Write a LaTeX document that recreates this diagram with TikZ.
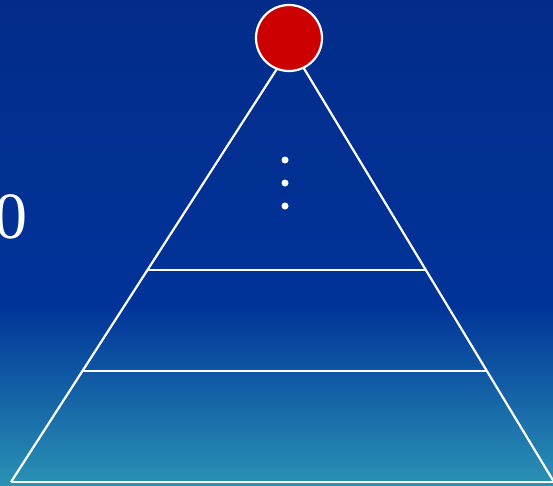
\documentclass[tikz,border=0pt]{standalone}
\usepackage{fontspec}
\setmainfont{Liberation Serif}
\usetikzlibrary{calc}
\definecolor{bgtop}{RGB}{3,44,138}
\definecolor{bgmid}{RGB}{0,51,153}
\definecolor{bgbot}{RGB}{42,146,180}
\definecolor{ballred}{RGB}{204,0,0}
\tikzset{
  edge/.style={draw=white,line width=2.2pt},
  ball/.style={circle,draw=white,line width=2.2pt,fill=ballred,minimum size=66pt,inner sep=0pt},
  dotmark/.style={circle,fill=white,minimum size=7pt,inner sep=0pt},
}
\begin{document}
\begin{tikzpicture}[x=1pt,y=-1pt]
\useasboundingbox (0,0) rectangle (553,485);
\shade[top color=bgtop,bottom color=bgmid] (0,0) rectangle (553,305);
\shade[top color=bgmid,bottom color=bgbot] (0,304.5) rectangle (553,485);
\coordinate (apex) at (291,47);
\coordinate (bl) at (11,482);
\coordinate (br) at (554,482);
\coordinate (l1) at ($(apex)!0.5126!(bl)$);
\coordinate (r1) at ($(apex)!0.5126!(br)$);
\coordinate (l2) at ($(apex)!0.7448!(bl)$);
\coordinate (r2) at ($(apex)!0.7448!(br)$);
\draw[edge] (bl) -- (apex) -- (br);
\draw[edge] (bl) -- (br);
\draw[edge] (l1) -- (r1);
\draw[edge] (l2) -- (r2);
\node[ball] (top) at (289,38) {};
\node[dotmark] (d1) at (285,160) {};
\node[dotmark] (d2) at (285,183) {};
\node[dotmark] (d3) at (285,206) {};
\node[anchor=base east,inner sep=0pt,text=white,font=\fontsize{66}{66}\selectfont] (num) at (27.5,238) {0};
\end{tikzpicture}
\end{document}
